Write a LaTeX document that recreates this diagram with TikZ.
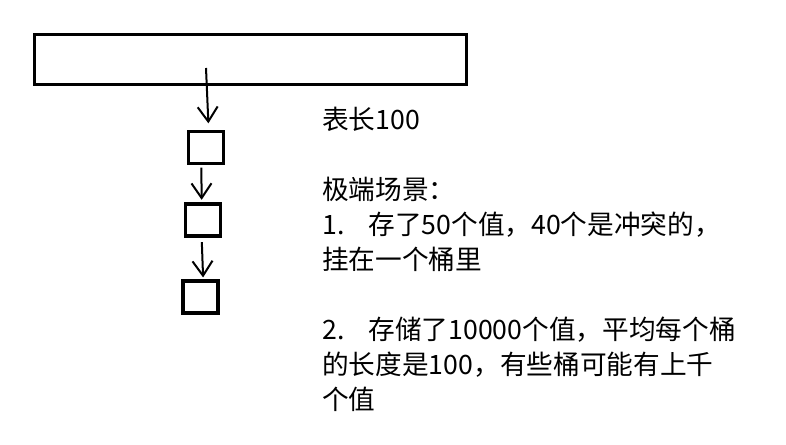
\documentclass[tikz,border=0pt]{standalone}
\usepackage{fontspec}
\setmainfont{Noto Sans CJK SC}
\usetikzlibrary{positioning,arrows.meta}

\begin{document}
\begin{tikzpicture}[x=0.75pt, y=-0.75pt,
        every node/.style={font=\fontsize{20}{26.25}\selectfont},
        hashtable/.style={draw, line width=2.3pt, minimum width=324pt, minimum height=37.5pt, inner sep=0pt},
        bucket/.style={draw, line width=2.3pt, minimum width=26.25pt, minimum height=24pt, inner sep=0pt},
        arrow/.style={-{Straight Barb[length=11pt, width=15pt]}, line width=1.5pt}
    ]
        \useasboundingbox (0,0) rectangle (786,445);

        % Hash table and the slot the chain hangs from
        \node[hashtable] (tab) at (250.5,59.5) {};
        \coordinate (slot) at (206,68);

        % Chain of buckets
        \node[bucket] (b1) at (206,147.5) {};
        \node[bucket] (b2) at (203,220) {};
        \node[bucket] (b3) at (200.5,297) {};

        % Notes
        \node[anchor=north west, align=left, inner sep=0pt] (note) at (322,106.5) {%
            表长100\\[26.25pt]
            极端场景：\\
            1.\hspace{0.9em}存了50个值，40个是冲突的，\\
            挂在一个桶里\\[26.25pt]
            2.\hspace{0.9em}存储了10000个值，平均每个桶\\
            的长度是100，有些桶可能有上千\\
            个值};

        % Arrows along the chain
        \draw[arrow, shorten >=5pt] (slot) -- ([xshift=2pt]b1.north);
        \draw[arrow, shorten <=2pt, shorten >=2pt] ([xshift=-3.5pt]b1.south) -- ([xshift=-1pt]b2.north);
        \draw[arrow, shorten <=3.5pt, shorten >=1.5pt] ([xshift=-1pt]b2.south) -- ([xshift=2pt]b3.north);

    \end{tikzpicture}
\end{document}
